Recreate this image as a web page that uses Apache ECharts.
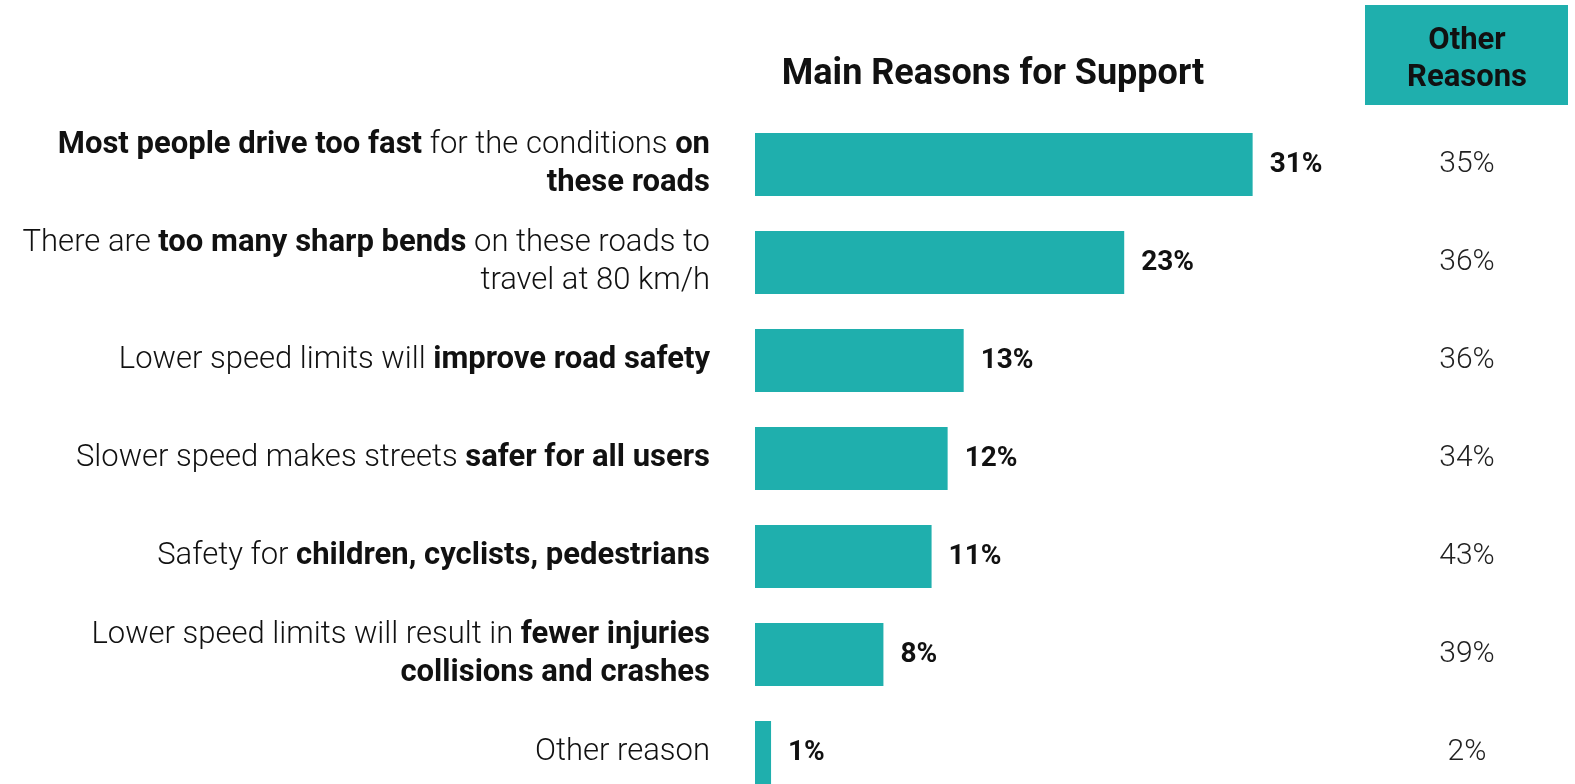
<!DOCTYPE html>
<html><head><meta charset="utf-8">
<script src="https://cdn.jsdelivr.net/npm/echarts@6/dist/echarts.min.js"></script>
<style>html,body{margin:0;padding:0;background:#fff}#c{width:1575px;height:784px}</style>
</head><body><div id="c"></div>
<script>
const categories = [
  "**Most people drive too fast** for the conditions **on**\n**these roads**",
  "There are **too many sharp bends** on these roads to\ntravel at 80 km/h",
  "Lower speed limits will **improve road safety**",
  "Slower speed makes streets **safer for all users**",
  "Safety for **children, cyclists, pedestrians**",
  "Lower speed limits will result in **fewer injuries**\n**collisions and crashes**",
  "Other reason"
];
const mainValues = [31, 23, 13, 12, 11, 8, 1];
const otherValues = [35, 36, 36, 34, 43, 39, 2];
const headerMain = "Main Reasons for Support";
const headerOther = "Other\nReasons";

const TEAL = '#1FAFAD';
const FONT = 'Roboto';

function toRich(s) {
  return s.split('\n').map(line => {
    const parts = line.split('**');
    return parts.map((p, i) => p === '' ? '' : (i % 2 === 1 ? '{b|' + p + '}' : '{r|' + p + '}')).join('');
  }).join('\n');
}

const chart = echarts.init(document.getElementById('c'));
chart.setOption({
  animation: false,
  textStyle: { fontFamily: FONT },
  grid: { left: 755, top: 115.5, width: 610, height: 686, outerBoundsMode: 'none', containLabel: false },
  xAxis: { type: 'value', min: 0, max: 38, show: false },
  yAxis: [
    {
      type: 'category', inverse: true, data: categories,
      axisLine: { show: false }, axisTick: { show: false },
      axisLabel: {
        margin: 45, align: 'right',
        formatter: v => toRich(v),
        rich: {
          b: { fontFamily: FONT, fontSize: 31, fontWeight: 'bold', color: '#111', lineHeight: 38 },
          r: { fontFamily: FONT, fontSize: 31, fontWeight: 300, color: '#111', lineHeight: 38 }
        }
      }
    },
    {
      type: 'category', inverse: true, position: 'right',
      data: otherValues.map(v => v + '%'),
      axisLine: { show: false }, axisTick: { show: false },
      axisLabel: { margin: 102, align: 'center', fontFamily: FONT, fontSize: 30, color: '#222', fontWeight: 300, padding: [0, 0, 8, 0] }
    }
  ],
  series: [{
    type: 'bar', data: mainValues, barWidth: 63,
    itemStyle: { color: TEAL },
    label: { show: true, position: 'right', distance: 17, formatter: '{c}%', fontFamily: FONT, fontSize: 28, fontWeight: 'bold', color: '#111' }
  }],
  graphic: [
    { type: 'text', x: 993, y: 75, style: { text: headerMain, font: 'bold 36px ' + FONT, fill: '#111', align: 'center', verticalAlign: 'middle' } },
    { type: 'rect', shape: { x: 1365, y: 5, width: 203, height: 100 }, style: { fill: TEAL } },
    { type: 'text', x: 1467, y: 60, style: { text: headerOther, font: 'bold 31px ' + FONT, fill: '#111', align: 'center', verticalAlign: 'middle', lineHeight: 37 } }
  ]
});
</script></body></html>
